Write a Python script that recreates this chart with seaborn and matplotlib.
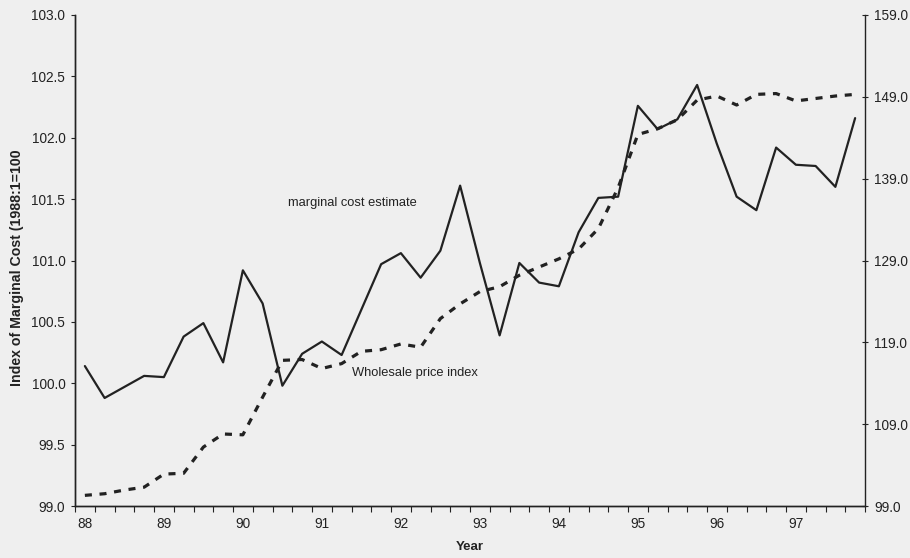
import matplotlib
matplotlib.use("Agg")
import matplotlib.pyplot as plt
from matplotlib.ticker import FixedLocator, NullFormatter
import numpy as np
import pandas as pd
import seaborn as sns

# Quarterly observations, 1988 Q1 to 1997 Q4
quarters = [88 + q * 0.25 for q in range(40)]

marginal_cost = [
    100.14, 99.88, 99.97, 100.06, 100.05, 100.38, 100.49, 100.17,
    100.92, 100.65, 99.98, 100.24, 100.34, 100.23, 100.60, 100.97,
    101.06, 100.86, 101.08, 101.61, 100.98, 100.39, 100.98, 100.82,
    100.79, 101.23, 101.51, 101.52, 102.26, 102.07, 102.15, 102.43,
    101.95, 101.52, 101.41, 101.92, 101.78, 101.77, 101.60, 102.16,
]

wholesale_price = [
    100.3, 100.5, 100.95, 101.3, 102.9, 103.0, 106.2, 107.8,
    107.7, 112.3, 116.8, 116.9, 115.8, 116.4, 117.9, 118.1,
    118.8, 118.4, 121.9, 123.7, 125.2, 125.8, 127.2, 128.2,
    129.2, 130.4, 132.9, 137.9, 144.4, 145.1, 146.2, 148.6,
    149.1, 148.0, 149.3, 149.4, 148.5, 148.8, 149.1, 149.3,
]

year_ticks = list(range(88, 98))
year_labels = [str(y) for y in year_ticks]
left_ticks = [99.0, 99.5, 100.0, 100.5, 101.0, 101.5, 102.0, 102.5, 103.0]
right_ticks = [99.0, 109.0, 119.0, 129.0, 139.0, 149.0, 159.0]

df = pd.DataFrame({"year": quarters, "mc": marginal_cost, "wpi": wholesale_price})

sns.set_theme(style="white")
plt.rcParams["font.family"] = ["Liberation Sans", "DejaVu Sans"]

bg = "#efefef"
ink = "#222222"
tick_fs = 9.8

fig = plt.figure(figsize=(9.1, 5.58), dpi=100, facecolor=bg)
ax = fig.add_axes([75 / 910, 1 - 506 / 558, 790 / 910, 491 / 558])
ax.set_facecolor(bg)
ax2 = ax.twinx()

sns.lineplot(data=df, x="year", y="mc", ax=ax, color=ink, linewidth=1.6)
sns.lineplot(data=df, x="year", y="wpi", ax=ax2, color=ink, linewidth=2.3)
ax2.lines[0].set_dashes([2.2, 2.4])

ax.set_xlim(88 - 0.125, 97.75 + 0.125)
ax.set_ylim(99.0, 103.0)
ax2.set_ylim(99.0, 159.0)

# Year labels centred on Q1, tick marks at category boundaries
ax.set_xticks(year_ticks)
ax.set_xticklabels(year_labels)
ax.xaxis.set_minor_locator(FixedLocator([87.875 + 0.25 * k for k in range(41)]))
ax.xaxis.set_minor_formatter(NullFormatter())
ax.tick_params(axis="x", which="major", length=0, pad=8, labelsize=tick_fs, colors=ink)
ax.tick_params(axis="x", which="minor", length=4, width=0.8, direction="out", color=ink, bottom=True)

ax.set_yticks(left_ticks)
ax.set_yticklabels([f"{v:.1f}" for v in left_ticks])
ax.tick_params(axis="y", length=3, width=0.8, direction="out", labelsize=tick_fs, colors=ink, left=True, pad=4)

ax2.set_yticks(right_ticks)
ax2.set_yticklabels([f"{v:.1f}" for v in right_ticks])
ax2.tick_params(axis="y", length=5, width=0.8, direction="inout", labelsize=tick_fs, colors=ink, right=True, pad=4)

for a in (ax, ax2):
    a.spines["top"].set_visible(False)
    for s in ("left", "right", "bottom"):
        a.spines[s].set_color(ink)
        a.spines[s].set_linewidth(1.0)
ax.spines["right"].set_visible(False)

ax.set_xlabel("Year", fontsize=9.5, fontweight="bold", color=ink)
ax.xaxis.set_label_coords(0.5, -0.071)
ax.set_ylabel("Index of Marginal Cost (1988:1=100", fontsize=10.2, fontweight="bold", color=ink)
ax.yaxis.set_label_coords(-0.064, 0.485)
ax2.set_ylabel("")

ax.text(90.57, 101.47, "marginal cost estimate", fontsize=9.3, color=ink, va="center", ha="left")
ax.text(91.38, 100.08, "Wholesale price index", fontsize=9.3, color=ink, va="center", ha="left")

fig.savefig("out.png", dpi=100, facecolor=bg)
